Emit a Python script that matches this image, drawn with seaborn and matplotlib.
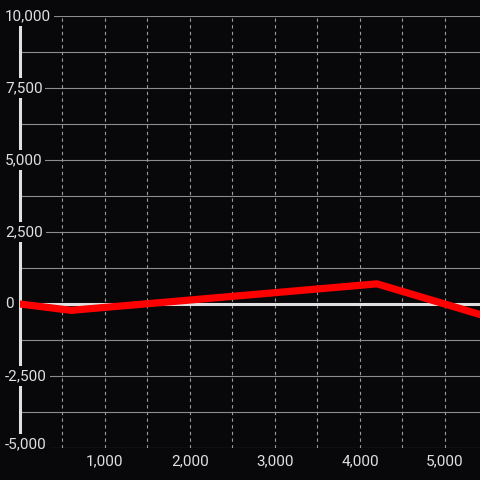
import matplotlib
matplotlib.use("Agg")
import matplotlib.pyplot as plt
import matplotlib.transforms as mtransforms
import seaborn as sns
import pandas as pd

# data
x_values = [0, 600, 4200, 5600]
y_values = [0, -220, 700, -530]

y_ticks = [-5000, -2500, 0, 2500, 5000, 7500, 10000]
y_grid = [-5000, -3750, -2500, -1250, 0, 1250, 2500, 3750, 5000, 6250, 7500, 8750, 10000]
x_ticks = [1000, 2000, 3000, 4000, 5000]
x_grid = [500, 1000, 1500, 2000, 2500, 3000, 3500, 4000, 4500, 5000]

BG = "#08080a"
FG = "#e0e0e0"

sns.set_theme(style="dark", rc={"axes.facecolor": BG, "figure.facecolor": BG})
plt.rcParams["font.family"] = ["Roboto", "DejaVu Sans"]

fig = plt.figure(figsize=(4.8, 4.8), dpi=100)
ax = fig.add_axes([20 / 480, 32 / 480, 460 / 480, 432 / 480])
ax.set_facecolor(BG)

df = pd.DataFrame({"x": x_values, "y": y_values})

# grid
for v in y_grid:
    ax.axhline(v, color="#8c8c8c", lw=0.8, zorder=1)
for v in x_grid:
    ax.axvline(v, color="#9a9a9a", lw=0.8, ls=(0, (3, 3)), zorder=1)

ax.axhline(0, color=FG, lw=2.2, zorder=3)
ax.axvline(0, color=FG, lw=2.2, zorder=3, clip_on=False)

sns.lineplot(data=df, x="x", y="y", ax=ax, color="#ff0000", linewidth=5.2,
             sort=False, zorder=5)

ax.set_xlim(0, 5412)
ax.set_ylim(-5000, 10000)
ax.set_xticks([])
ax.set_yticks([])
ax.set_xlabel("")
ax.set_ylabel("")
for s in ax.spines.values():
    s.set_visible(False)

box = dict(facecolor=BG, edgecolor="none", pad=2)
ytrans = mtransforms.blended_transform_factory(fig.transFigure, ax.transData)
for v in y_ticks:
    # the lowest label is kept inside the plot, sitting on its line
    va = "baseline" if v == y_ticks[0] else "center"
    fig.text(5 / 480, v, f"{v:,}", transform=ytrans, ha="left", va=va,
             color=FG, fontsize=11, bbox=box, zorder=10)

xtrans = mtransforms.blended_transform_factory(ax.transData, fig.transFigure)
for v in x_ticks:
    fig.text(v, (480 - 461) / 480, f"{v:,}", transform=xtrans, ha="center",
             va="center", color=FG, fontsize=11, zorder=10)

fig.savefig("out.png", dpi=100, facecolor=BG)
